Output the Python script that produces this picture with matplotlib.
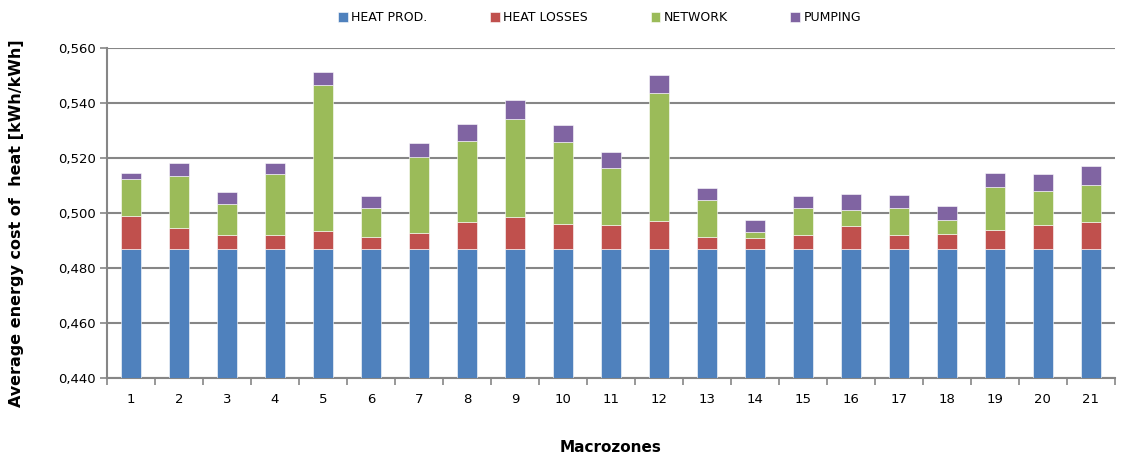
import matplotlib
matplotlib.use("Agg")
import matplotlib.pyplot as plt
import numpy as np
from matplotlib.ticker import FuncFormatter, FixedLocator

categories = [str(i) for i in range(1, 22)]
heat_prod = [0.487] * 21
heat_losses = [0.0118, 0.0075, 0.0051, 0.0050, 0.0063, 0.0044, 0.0057, 0.0096, 0.0117, 0.0089, 0.0085,
               0.0101, 0.0044, 0.0040, 0.0051, 0.0082, 0.0051, 0.0054, 0.0069, 0.0085, 0.0098]
network = [0.0135, 0.0188, 0.0111, 0.0221, 0.0532, 0.0105, 0.0278, 0.0296, 0.0356, 0.0299, 0.0208,
           0.0464, 0.0134, 0.0022, 0.0096, 0.0060, 0.0097, 0.0052, 0.0154, 0.0125, 0.0134]
pumping = [0.0022, 0.0050, 0.0043, 0.0042, 0.0049, 0.0044, 0.0050, 0.0062, 0.0069, 0.0061, 0.0060,
           0.0067, 0.0043, 0.0041, 0.0045, 0.0058, 0.0047, 0.0051, 0.0054, 0.0062, 0.0068]
series_names = ["HEAT PROD.", "HEAT LOSSES", "NETWORK", "PUMPING"]
colors = ["#4F81BD", "#C0504D", "#9BBB59", "#8064A2"]
yticks = [0.44, 0.46, 0.48, 0.50, 0.52, 0.54, 0.56]

fig = plt.figure(figsize=(11.21, 4.59), dpi=100)
ax = fig.add_axes([0.0955, 0.1765, 0.899, 0.7189])

x = np.arange(len(categories))
bottom = np.zeros(len(categories))
handles = []
for name, vals, c in zip(series_names, [heat_prod, heat_losses, network, pumping], colors):
    vals = np.array(vals)
    h = ax.bar(x, vals, width=0.41, bottom=bottom, color=c, edgecolor="white", linewidth=0.4,
               label=name, zorder=3)
    handles.append(h)
    bottom = bottom + vals

ax.set_xlim(-0.5, len(categories) - 0.5)
ax.set_ylim(0.44, 0.56)
ax.set_yticks(yticks)
ax.yaxis.set_major_formatter(FuncFormatter(lambda v, p: f"{v:.3f}".replace(".", ",")))
ax.set_xticks(x)
ax.set_xticklabels(categories)
ax.xaxis.set_minor_locator(FixedLocator(np.arange(-0.5, len(categories), 1.0)))
ax.tick_params(axis="x", which="major", length=0, pad=11, labelsize=9.5)
ax.tick_params(axis="x", which="minor", length=5, color="#868686", width=1.2)
ax.tick_params(axis="y", length=5, color="#868686", width=1.2, labelsize=9.5, pad=3)

ax.grid(axis="y", color="#868686", linewidth=1.5, zorder=0)
for s in ["top", "right"]:
    ax.spines[s].set_visible(False)
for s in ["left", "bottom"]:
    ax.spines[s].set_color("#868686")
    ax.spines[s].set_linewidth(1.5)

ax.set_ylabel("Average energy cost of  heat [kWh/kWh]", fontsize=11.5, fontweight="bold", labelpad=12)
ax.yaxis.set_label_coords(-0.082, 0.47)
ax.set_xlabel("Macrozones", fontsize=11, fontweight="bold", labelpad=24)

fig.legend(handles=handles, labels=series_names, loc="upper center", bbox_to_anchor=(0.535, 1.0),
           ncol=4, frameon=False, fontsize=9, handlelength=0.75, handleheight=0.9,
           handletextpad=0.3, columnspacing=5.0)

fig.savefig("out.png", dpi=100)
